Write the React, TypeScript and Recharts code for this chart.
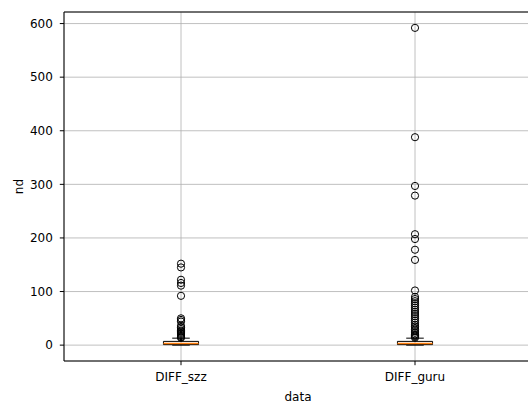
import {
  CartesianGrid,
  ComposedChart,
  Label,
  ReferenceArea,
  ReferenceLine,
  Scatter,
  XAxis,
  YAxis,
} from "recharts";

// categories on the x axis (positions 1, 2)
const CATEGORIES = ["DIFF_szz", "DIFF_guru"];

// box stats per category: [whiskerLow, q1, median, q3, whiskerHigh]
const SZZ_STATS = [0, 1, 3, 7, 13];
const GURU_STATS = [0, 1, 3, 7, 13];

// fliers
const SZZ_FLIERS = [152, 145, 122, 116, 111, 92, 50, 47, 44, 36, 33, 30, 27, 25, 23, 21, 19, 17, 15, 14];
const GURU_FLIERS = [
  592, 388, 297, 279, 207, 198, 178, 159, 102, 90, 86, 82, 78, 74, 70, 66, 62, 58, 54, 50, 46, 42, 38, 35, 32, 29,
  26, 23, 20, 18, 16, 14,
];

const Y_TICKS = [0, 100, 200, 300, 400, 500, 600];
const Y_DOMAIN = [-29.6, 621.6];
const X_DOMAIN = [0.5, 2.5];

const BOX_HALF = 0.075;
const CAP_HALF = 0.0375;
const FONT = "DejaVu Sans, sans-serif";

const fliers = [
  ...SZZ_FLIERS.map((y) => ({ x: 1, y })),
  ...GURU_FLIERS.map((y) => ({ x: 2, y })),
];

const boxes = [SZZ_STATS, GURU_STATS];

function FlierDot(props: any) {
  return <circle cx={props.cx} cy={props.cy} r={3.6} fill="none" stroke="#000" strokeWidth={1} />;
}

export default function App() {
  return (
    <div style={{ position: "fixed", left: 0, top: 0, width: 528, height: 403, overflow: "hidden", background: "#fff" }}>
      <ComposedChart
        width={540}
        height={403}
        data={fliers}
        margin={{ top: 12, right: 8, bottom: 0, left: 0 }}
        style={{ fontFamily: FONT }}
      >
        <CartesianGrid stroke="#b0b0b0" strokeWidth={0.8} />
        <XAxis
          type="number"
          dataKey="x"
          domain={X_DOMAIN}
          ticks={[1, 2]}
          allowDataOverflow
          tickFormatter={(v: number) => CATEGORIES[v - 1]}
          height={42}
          stroke="#000"
          tickSize={4.2}
          tickMargin={6.8}
          tick={{ fill: "#000", fontSize: 12, fontFamily: FONT }}
        >
          <Label value="data" position="insideBottom" offset={2} fill="#000" fontSize={12} fontFamily={FONT} />
        </XAxis>
        <YAxis
          type="number"
          dataKey="y"
          domain={Y_DOMAIN}
          ticks={Y_TICKS}
          allowDataOverflow
          width={64}
          stroke="#000"
          tickSize={4.2}
          tickMargin={7}
          tick={{ fill: "#000", fontSize: 12, fontFamily: FONT }}
        >
          <Label
            content={(p: any) => {
              const vb = p.viewBox || { y: 12, height: 349 };
              const cx = 23;
              const cy = vb.y + vb.height / 2;
              return (
                <text
                  x={cx}
                  y={cy}
                  transform={`rotate(-90 ${cx} ${cy})`}
                  textAnchor="middle"
                  fill="#000"
                  fontSize={12}
                  fontFamily={FONT}
                >
                  nd
                </text>
              );
            }}
          />
        </YAxis>

        {/* top and right spines */}
        <ReferenceLine y={Y_DOMAIN[1]} stroke="#000" strokeWidth={1} ifOverflow="extendDomain" />
        <ReferenceLine x={X_DOMAIN[1]} stroke="#000" strokeWidth={1} ifOverflow="extendDomain" />

        {boxes.map((s, i) => {
          const x = i + 1;
          const [lo, q1, med, q3, hi] = s;
          return [
            <ReferenceLine key={`wl${i}`} segment={[{ x, y: lo }, { x, y: q1 }]} stroke="#000" strokeWidth={1} />,
            <ReferenceLine key={`wh${i}`} segment={[{ x, y: q3 }, { x, y: hi }]} stroke="#000" strokeWidth={1} />,
            <ReferenceLine
              key={`cl${i}`}
              segment={[{ x: x - CAP_HALF, y: lo }, { x: x + CAP_HALF, y: lo }]}
              stroke="#000"
              strokeWidth={1}
            />,
            <ReferenceLine
              key={`ch${i}`}
              segment={[{ x: x - CAP_HALF, y: hi }, { x: x + CAP_HALF, y: hi }]}
              stroke="#000"
              strokeWidth={1}
            />,
            <ReferenceArea
              key={`b${i}`}
              x1={x - BOX_HALF}
              x2={x + BOX_HALF}
              y1={q1}
              y2={q3}
              fill="none"
              fillOpacity={0}
              stroke="#000"
              strokeWidth={1}
              strokeOpacity={1}
            />,
            <ReferenceLine
              key={`m${i}`}
              segment={[{ x: x - BOX_HALF, y: med }, { x: x + BOX_HALF, y: med }]}
              stroke="#ff7f0e"
              strokeWidth={1.5}
            />,
          ];
        })}

        <Scatter data={fliers} dataKey="y" shape={FlierDot} isAnimationActive={false} />
      </ComposedChart>
    </div>
  );
}
